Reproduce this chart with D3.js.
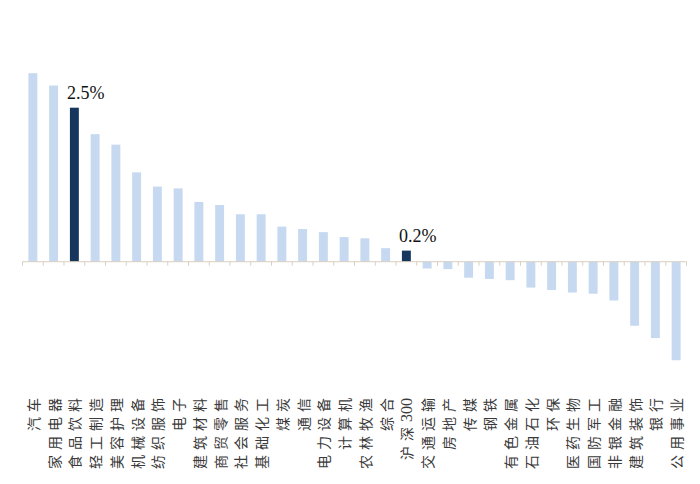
<!DOCTYPE html>
<html><head><meta charset="utf-8">
<script src="https://cdn.jsdelivr.net/npm/d3@7"></script>
<style>body{margin:0;background:#fff;}svg{display:block;}</style>
</head><body>
<svg id="c" width="700" height="484"></svg>
<script>
const categories = ["汽车","家用电器","食品饮料","轻工制造","美容护理","机械设备","纺织服饰","电子","建筑材料","商贸零售","社会服务","基础化工","煤炭","通信","电力设备","计算机","农林牧渔","综合","沪深300","交通运输","房地产","传媒","钢铁","有色金属","石油石化","环保","医药生物","国防军工","非银金融","建筑装饰","银行","公用事业"];
const values = [3.06,2.86,2.5,2.07,1.90,1.45,1.22,1.19,0.97,0.92,0.77,0.77,0.57,0.53,0.48,0.40,0.38,0.22,0.18,-0.11,-0.12,-0.26,-0.28,-0.30,-0.42,-0.46,-0.50,-0.52,-0.63,-1.04,-1.24,-1.60];
const highlighted = ["食品饮料","沪深300"];
const annotations = [{cat:"食品饮料", text:"2.5%"},{cat:"沪深300", text:"0.2%"}];

const svg = d3.select("#c");
const x = d3.scaleBand().domain(categories).range([22.5, 686.5]).paddingInner(0.57).paddingOuter(0.285);
const y = d3.scaleLinear().domain([-2, 3.5]).range([261.7 + 2*61.6, 261.7 - 3.5*61.6]);

svg.append("g").selectAll("rect").data(categories).join("rect")
  .attr("x", d => x(d))
  .attr("width", x.bandwidth())
  .attr("y", (d,i) => y(Math.max(0, values[i])))
  .attr("height", (d,i) => Math.abs(y(values[i]) - y(0)))
  .attr("fill", d => highlighted.includes(d) ? "#17365d" : "#c6d9f1");

// axis
const step = x.step();
const ax = svg.append("g");
ax.append("line").attr("x1", 22.5).attr("x2", 686.5).attr("y1", y(0)).attr("y2", y(0))
  .attr("stroke", "#d9cfc1").attr("stroke-width", 1);
const bounds = d3.range(categories.length + 1).map(i => 22.5 + i * step);
ax.selectAll("line.t").data(bounds).join("line").attr("class","t")
  .attr("x1", d => d).attr("x2", d => d).attr("y1", y(0)).attr("y2", y(0) + 4)
  .attr("stroke", "#d9cfc1").attr("stroke-width", 1);

// labels
const lab = svg.append("g").attr("font-family", "'Noto Sans CJK SC', sans-serif").attr("font-size", 14).attr("fill", "#3a3a3a");
categories.forEach(c => {
  const cx = x(c) + x.bandwidth()/2;
  const t = lab.append("text")
    .attr("transform", `translate(${cx},398) rotate(-90)`)
    .attr("text-anchor", "end")
    .attr("dominant-baseline", "central");
  const runs = c.match(/[0-9A-Za-z]+|[^0-9A-Za-z]/g);
  runs.forEach((r, k) => {
    const isNum = /[0-9A-Za-z]/.test(r);
    const sp = isNum ? 0 : 5;
    t.append("tspan").text(r).style("letter-spacing", (k === runs.length - 1) ? "0px" : sp + "px")
      .attr("font-family", isNum ? "'Times New Roman', 'Liberation Serif', serif" : null)
      .attr("font-size", isNum ? 16 : null);
  });
});

// annotations
svg.append("g").selectAll("text").data(annotations).join("text")
  .attr("x", d => x(d.cat) + x.bandwidth()/2 - 7.5)
  .attr("y", d => y(values[categories.indexOf(d.cat)]) - 9)
  .attr("font-family", "'Times New Roman', 'Liberation Serif', serif")
  .attr("font-size", 18).attr("fill", "#111")
  .text(d => d.text);
</script>
</body></html>
